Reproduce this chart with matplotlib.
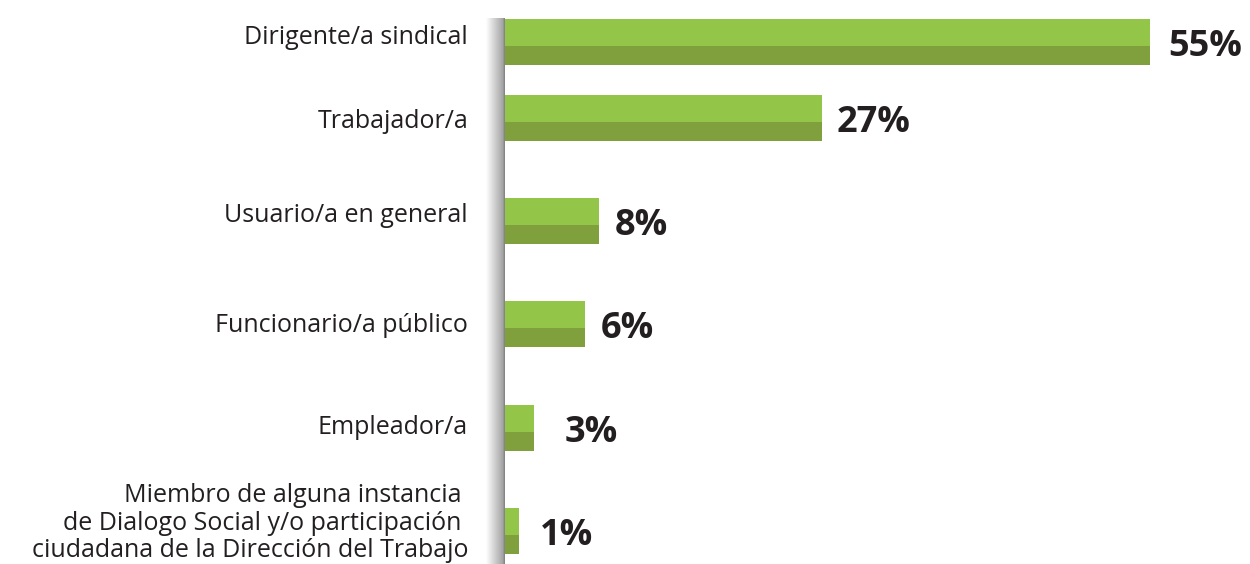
import numpy as np
import matplotlib
matplotlib.use('Agg')
import matplotlib.pyplot as plt

categories = ['Dirigente/a sindical', 'Trabajador/a', 'Usuario/a en general',
              'Funcionario/a público', 'Empleador/a',
              'Miembro de alguna instancia \nde Dialogo Social y/o participación \nciudadana de la Dirección del Trabajo']
labels = ['55%', '27%', '8%', '6%', '3%', '1%']
# bar lengths as drawn in the original (percent)
lengths = [55, 27.1, 8.2, 7.0, 2.6, 1.35]

light, dark = '#93c648', '#7fa03d'
txt = '#231f20'

W, H = 1250, 564
fig = plt.figure(figsize=(W / 100, H / 100), dpi=100)

# layout in pixel units (top of each bar)
bar_top = [19, 95, 198, 301, 405, 508]
lbl_y = [38, 121, 215, 325, 428, 523]
val_gap = [18, 15, 15, 15, 31, 21]
light_h, dark_h = 27, 19

x0 = 503
scale = (1150 - x0) / 55.0
ax = fig.add_axes([x0 / W, 0, 1 - x0 / W, 1])
ax.set_xlim(0, (W - x0) / scale)
ax.set_ylim(H, 0)
ax.axis('off')

tops = np.array(bar_top)
ax.barh(tops, lengths, height=light_h, align='edge', color=light, linewidth=0)
ax.barh(tops + light_h, lengths, height=dark_h, align='edge', color=dark, linewidth=0)

for i, (v, lab) in enumerate(zip(lengths, labels)):
    ax.text(v + val_gap[i] / scale, bar_top[i] + 28, lab, ha='left', va='center',
            fontsize=26, fontweight='bold', family='Open Sans', color=txt)

for i, c in enumerate(categories):
    fig.text(468 / W, 1 - lbl_y[i] / H, c, ha='right', va='center', fontsize=18,
             family='Open Sans', color=txt, linespacing=1.12, multialignment='right')

# shaded vertical axis
sax = fig.add_axes([486 / W, 0, 19 / W, (H - 18) / H])
grad = np.linspace(1.0, 0.6, 200)
grad[-14:] = 0.52
sax.imshow(grad[None, :], aspect='auto', cmap='gray', vmin=0, vmax=1, extent=(0, 1, 0, 1))
sax.axis('off')

fig.savefig('out.png', dpi=100)
